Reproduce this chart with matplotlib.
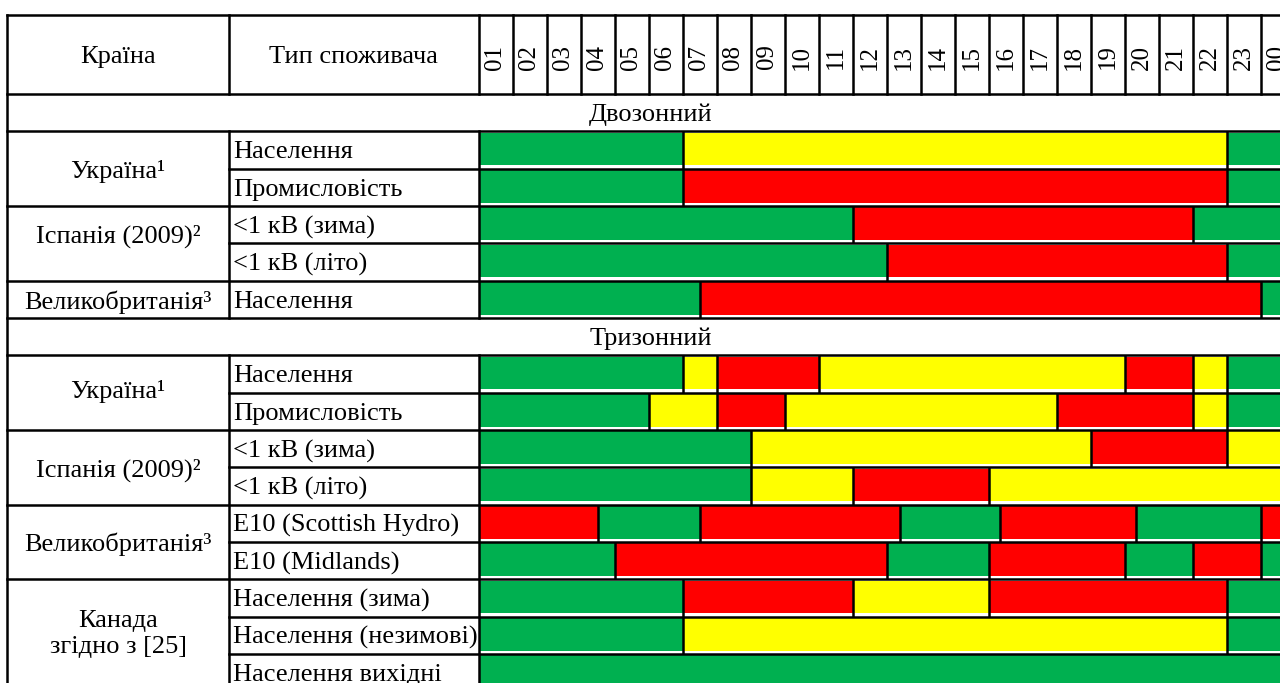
import matplotlib
matplotlib.use("Agg")
import matplotlib.pyplot as plt
from matplotlib.transforms import blended_transform_factory

plt.rcParams['font.family'] = ['Liberation Serif', 'DejaVu Serif']

# Години доби (стовпці)
hour_labels = ['01', '02', '03', '04', '05', '06', '07', '08', '09', '10', '11', '12',
               '13', '14', '15', '16', '17', '18', '19', '20', '21', '22', '23', '00']

sections = ['Двозонний', 'Тризонний']
section_rows = [0, 6]

# Країни: назва, перший та останній рядок об'єднаної клітинки
countries = ['Україна¹', 'Іспанія (2009)²', 'Великобританія³',
             'Україна¹', 'Іспанія (2009)²', 'Великобританія³', 'Канада\nзгідно з [25]']
country_first = [1, 3, 5, 7, 9, 11, 13]
country_last = [2, 4, 5, 8, 10, 12, 15]
country_shift = [0.0, -0.25, 0.0, -0.1, 0.0, 0.0, -0.1]

consumer_types = ['Населення', 'Промисловість', '<1 кВ (зима)', '<1 кВ (літо)', 'Населення',
                  'Населення', 'Промисловість', '<1 кВ (зима)', '<1 кВ (літо)',
                  'E10 (Scottish Hydro)', 'E10 (Midlands)',
                  'Населення (зима)', 'Населення (незимові)', 'Населення вихідні']
consumer_rows = [1, 2, 3, 4, 5, 7, 8, 9, 10, 11, 12, 13, 14, 15]

# Межі зон (години) та зони: G - ніч, Y - напівпік, R - пік
zone_breaks = [
    [0, 6, 22, 24],
    [0, 6, 22, 24],
    [0, 11, 21, 24],
    [0, 12, 22, 24],
    [0, 6.5, 23, 24],
    [0, 6, 7, 10, 19, 21, 22, 24],
    [0, 5, 7, 9, 17, 21, 22, 24],
    [0, 8, 18, 22, 24],
    [0, 8, 11, 15, 24],
    [0, 3.5, 6.5, 12.4, 15.35, 19.35, 23, 24],
    [0, 4, 12, 15, 19, 21, 23, 24],
    [0, 6, 11, 15, 22, 24],
    [0, 6, 22, 24],
    [0, 24],
]
zone_codes = ['GYG', 'GRG', 'GRG', 'GRG', 'GRG',
              'GYRYRYG', 'GYRYRYG', 'GYRY', 'GYRY', 'RGRGRGR', 'GRGRGRG', 'GRYRG', 'GYG', 'G']
zone_colors = {'G': '#00B050', 'Y': '#FFFF00', 'R': '#FF0000'}

# Розмітка таблиці (пікселі)
W, H = 1280, 683
x_left, x_col2, x_hours, col_w = 7, 229, 478.5, 34
y_top, y_head, row_h = 15, 94, 37.33
n_rows = 16
x_right = x_hours + 24 * col_w
y_bottom = y_head + n_rows * row_h
FS = 19
FS_H = 18
LW = 1.8
DY = 2.5  # невеликий зсув тексту вниз

fig = plt.figure(figsize=(W / 100, H / 100), dpi=100)

# Осі для смуг (години x рядки)
ax = fig.add_axes([x_hours / W, (H - y_bottom) / H, 24 * col_w / W, (y_bottom - y_head) / H])
ax.set_xlim(0, 24)
ax.set_ylim(n_rows, 0)
ax.axis('off')

for row, breaks, codes in zip(consumer_rows, zone_breaks, zone_codes):
    for i, code in enumerate(codes):
        ax.broken_barh([(breaks[i], breaks[i + 1] - breaks[i])], (row + 0.04, 0.87),
                       facecolors=zone_colors[code], edgecolor='none')
    inner = breaks[1:-1]
    if inner:
        ax.vlines(inner, row, row + 1, colors='black', linewidth=LW)

# Осі для сітки таблиці та тексту (пікселі)
grid = fig.add_axes([0, 0, 1, 1])
grid.set_xlim(0, W)
grid.set_ylim(H, 0)
grid.axis('off')

def ry(k):
    return y_head + k * row_h

line_kw = dict(color='black', linewidth=LW, solid_capstyle='projecting')

# Заголовок
grid.plot([x_left, x_right], [y_top, y_top], **line_kw)
grid.plot([x_left, x_left], [y_top, y_bottom], **line_kw)
for xv in [x_col2] + [x_hours + i * col_w for i in range(25)]:
    grid.plot([xv, xv], [y_top, y_head], **line_kw)
y_mid = (y_top + y_head) / 2 + DY
grid.text((x_left + x_col2) / 2, y_mid, 'Країна', ha='center', va='center', fontsize=FS)
grid.text((x_col2 + x_hours) / 2, y_mid, 'Тип споживача', ha='center', va='center', fontsize=FS)

hour_tr = blended_transform_factory(ax.transData, grid.transData)
for i, lab in enumerate(hour_labels):
    grid.text(i + 0.5, y_mid, lab, rotation=90, ha='center', va='center',
              fontsize=FS_H, transform=hour_tr)

# Горизонтальні лінії
full_lines = set([0, n_rows] + section_rows + [r + 1 for r in section_rows] + country_first)
for k in range(n_rows + 1):
    x0 = x_left if k in full_lines else x_col2
    grid.plot([x0, x_right], [ry(k), ry(k)], **line_kw)

# Вертикальні лінії в рядках даних
for start, stop in [(1, 6), (7, n_rows)]:
    for xv in [x_col2, x_hours]:
        grid.plot([xv, xv], [ry(start), ry(stop)], **line_kw)

# Розділи
for name, k in zip(sections, section_rows):
    grid.text((x_left + x_right) / 2, ry(k + 0.5) + DY, name, ha='center', va='center', fontsize=FS)

# Країни
for name, k0, k1, sh in zip(countries, country_first, country_last, country_shift):
    grid.text((x_left + x_col2) / 2, ry((k0 + k1 + 1) / 2 + sh) + DY, name, ha='center', va='center',
              fontsize=FS, linespacing=1.25)

# Типи споживачів
for name, k in zip(consumer_types, consumer_rows):
    grid.text(x_col2 + 4, ry(k + 0.5) + DY, name, ha='left', va='center', fontsize=FS)

fig.savefig('out.png', dpi=100)
